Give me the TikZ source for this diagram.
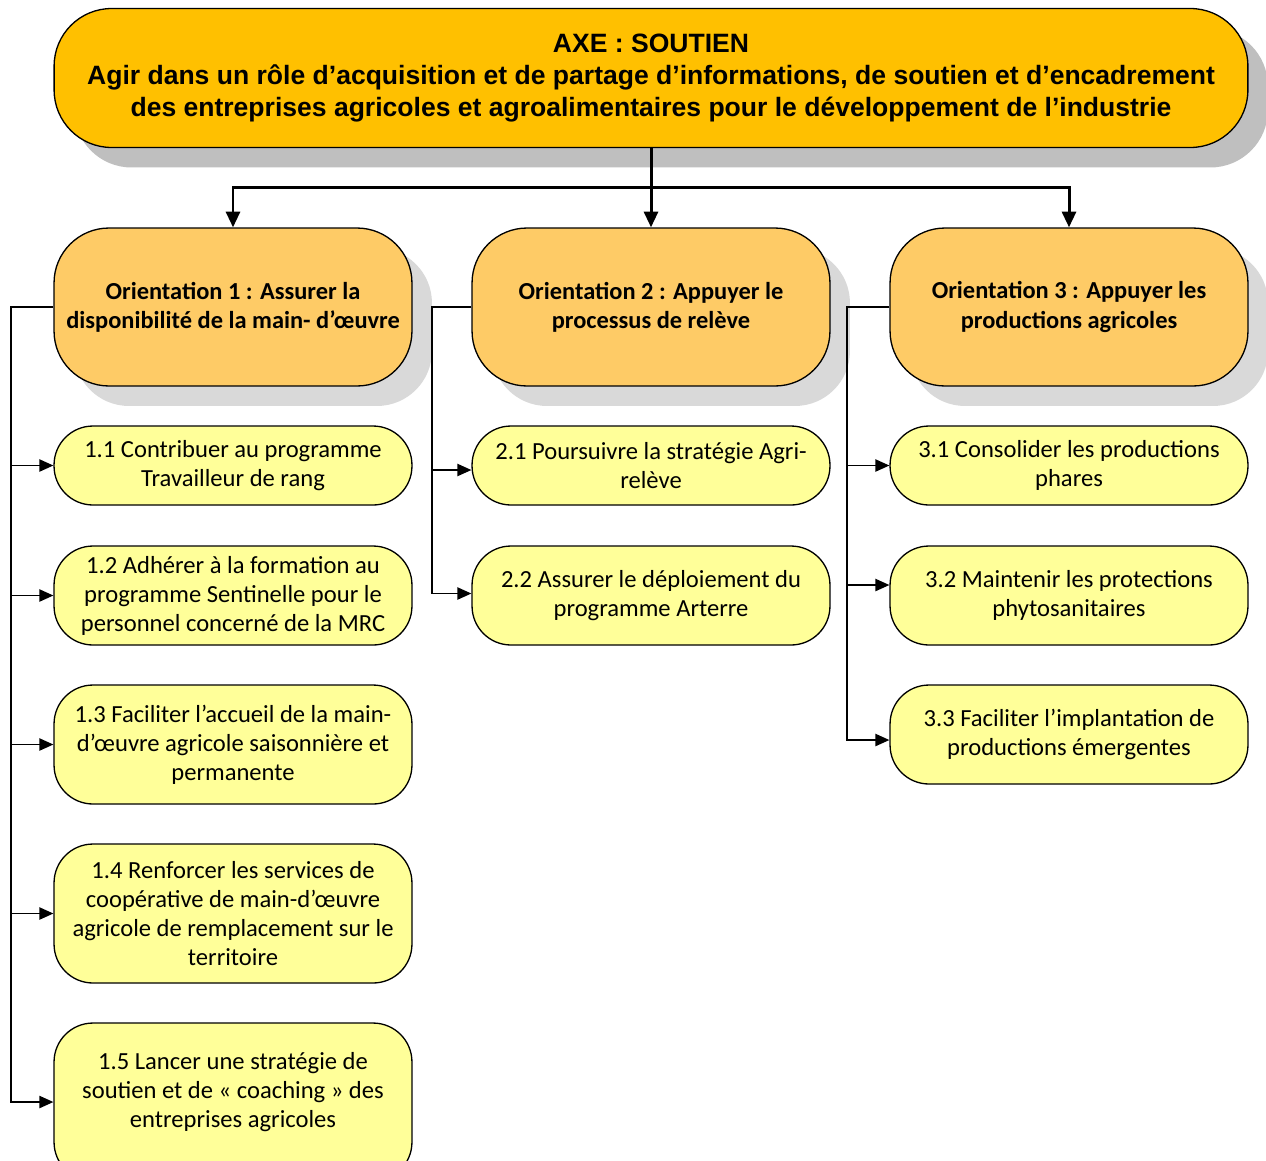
\documentclass[tikz,border=0pt]{standalone}
\usepackage{fontspec}
\setmainfont{Carlito}
\newfontfamily\axefont{Liberation Sans}
\usetikzlibrary{arrows.meta}
\usetikzlibrary{shadows}
\usetikzlibrary{calc,positioning}

\definecolor{axeorange}{HTML}{FFC000}
\definecolor{orilight}{HTML}{FECB66}
\definecolor{itemyellow}{HTML}{FFFF99}
\definecolor{shadowdark}{HTML}{BFBFBF}
\definecolor{shadowlight}{HTML}{D9D9D9}

\begin{document}
\begin{tikzpicture} [
        x=0.02cm, y=-0.02cm,
        axe/.style={
            draw=black,
            line width=0.75pt,
            fill=axeorange,
            rounded corners=1.15cm,
            minimum width=23.88cm,
            minimum height=2.78cm,
            align=center,
            font=\axefont\bfseries\fontsize{15.1}{18.2}\selectfont,
            drop shadow={shadow xshift=0.4cm, shadow yshift=-0.4cm,
                fill=shadowdark, opacity=1}},
        ori/.style={
            draw=black,
            line width=0.75pt,
            fill=orilight,
            rounded corners=1.1cm,
            minimum width=7.16cm,
            minimum height=3.16cm,
            align=center,
            font=\bfseries\fontsize{13.9}{16.6}\selectfont,
            drop shadow={shadow xshift=0.4cm, shadow yshift=-0.4cm,
                fill=shadowlight, opacity=1}},
        item/.style={
            draw=black,
            line width=0.75pt,
            fill=itemyellow,
            rounded corners=0.78cm,
            minimum width=7.16cm,
            minimum height=#1,
            align=center,
            font=\fontsize{14}{16.5}\selectfont},
        item/.default=1.58cm,
        link/.style={line width=0.85pt, -{Triangle[length=8pt,width=7pt]}},
        trunk/.style={line width=1.7pt, -{Triangle[length=9pt,width=8pt]}}]

    \useasboundingbox (0,0) rectangle (1266,1160);

    % axe at the top
    \node[axe] (axe) at (651,78) {AXE : SOUTIEN\\
        Agir dans un rôle d’acquisition et de partage d’informations, de soutien et d’encadrement\\
        des entreprises agricoles et agroalimentaires pour le développement de l’industrie};

    % the three orientations
    \node[ori] (o1) at (233,307) {Orientation 1 : Assurer la\\ disponibilité de la main- d’œuvre};
    \node[ori] (o2) at (651,307) {Orientation 2 : Appuyer le\\ processus de relève};
    \node[ori] (o3) at (1069,307) {Orientation 3 : Appuyer les\\ productions agricoles};

    \coordinate (fork) at (651,187);
    \draw[trunk] (axe.south) -- (o2.north);
    \draw[trunk] (fork) -| (o1.north);
    \draw[trunk] (fork) -| (o3.north);

    % orientation 1 column
    \node[item] (i11) at (233,465.5) {1.1 Contribuer au programme\\ Travailleur de rang};
    \node[item=1.98cm] (i12) at (233,595.5) {1.2 Adhérer à la formation au\\ programme Sentinelle pour le\\ personnel concerné de la MRC};
    \node[item=2.38cm] (i13) at (233,744.5) {1.3 Faciliter l’accueil de la main-\\ d’œuvre agricole saisonnière et\\ permanente};
    \node[item=2.78cm] (i14) at (233,913.5) {1.4 Renforcer les services de\\ coopérative de main-d’œuvre\\ agricole de remplacement sur le\\ territoire};
    \node[item=3.16cm,text depth=0.49cm] (i15) at (233,1102) {1.5 Lancer une stratégie de\\ soutien et de « coaching » des\\ entreprises agricoles};

    \coordinate (bus1) at (11,307);
    \draw[link] (o1.west) -- (bus1) |- (i15.west);
    \foreach \i in {1,...,4} {
        \draw[link] (bus1 |- i1\i.west) -- (i1\i.west);
    }

    % orientation 2 column
    \node[item] (i21) at (651,465.5) {2.1 Poursuivre la stratégie Agri-\\ relève};
    \node[item=1.98cm] (i22) at (651,595.5) {2.2 Assurer le déploiement du\\ programme Arterre};

    \coordinate (bus2) at (432,307);
    \coordinate (a21) at ($(i21.west)+(0,4.5)$);
    \coordinate (a22) at ($(i22.west)+(0,-2)$);
    \draw[link] (o2.west) -- (bus2) |- (a22);
    \draw[link] (bus2 |- a21) -- (a21);

    % orientation 3 column
    \node[item] (i31) at (1069,465.5) {3.1 Consolider les productions\\ phares};
    \node[item=1.98cm] (i32) at (1069,595.5) {3.2 Maintenir les protections\\ phytosanitaires};
    \node[item=1.98cm] (i33) at (1069,734.5) {3.3 Faciliter l’implantation de\\ productions émergentes};

    \coordinate (bus3) at (847,307);
    \coordinate (a32) at ($(i32.west)+(0,-10.5)$);
    \coordinate (a33) at ($(i33.west)+(0,5.5)$);
    \draw[link] (o3.west) -- (bus3) |- (a33);
    \draw[link] (bus3 |- i31.west) -- (i31.west);
    \draw[link] (bus3 |- a32) -- (a32);

\end{tikzpicture}
\end{document}
